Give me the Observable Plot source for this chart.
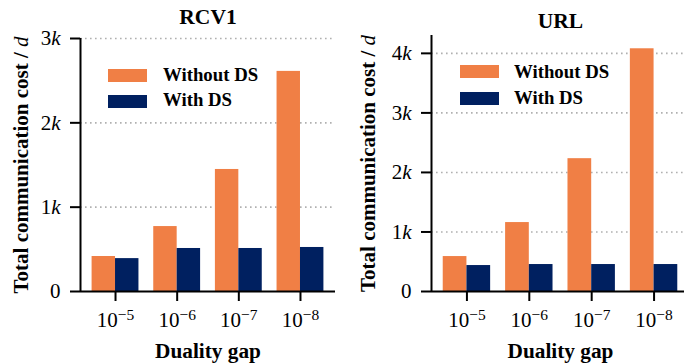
<!DOCTYPE html>
<html>
<head>
<meta charset="utf-8">
<script src="https://cdn.jsdelivr.net/npm/d3@7"></script>
<script src="https://cdn.jsdelivr.net/npm/@observablehq/plot@0.6"></script>
<style>
  html, body { margin: 0; padding: 0; background: #fff; }
  #wrap { position: relative; width: 684px; height: 364px; overflow: hidden; font-family: "Liberation Serif", "Times New Roman", serif; }
  .panel { position: absolute; top: 0; height: 364px; }
  .panel svg { display: block; }
  .sw { position: absolute; width: 39px; height: 13px; }
  .lt { position: absolute; font-weight: bold; font-size: 18.8px; line-height: 1; white-space: nowrap; color: #000; }
</style>
</head>
<body>
<div id="wrap"></div>
<script>
// ---- data ----
const gapExponents = [-5, -6, -7, -8];
const seriesNames = ["Without DS", "With DS"];
const seriesColors = ["#F07F45", "#002060"];
const rcv1Without = [415, 770, 1447, 2610];
const rcv1With = [390, 510, 510, 522];
const urlWithout = [587, 1158, 2231, 4077];
const urlWith = [436, 453, 453, 453];
const rcv1Ticks = [0, 1000, 2000, 3000];
const urlTicks = [0, 1000, 2000, 3000, 4000];
const titles = ["RCV1", "URL"];
const yLabel = "Total communication cost / d";
const xLabel = "Duality gap";

const barWidth = 0.38;
const n = gapExponents.length;
const xMargin = 0.05 * (n - 1 + 2 * barWidth);
const xDomain = [-barWidth - xMargin, n - 1 + barWidth + xMargin];

function rowsFor(without, withDS) {
  const rows = [];
  gapExponents.forEach((e, i) => {
    rows.push({i, series: seriesNames[0], value: without[i]});
    rows.push({i, series: seriesNames[1], value: withDS[i]});
  });
  return rows;
}

function makePanel(cfg) {
  const rows = rowsFor(cfg.without, cfg.withDS);
  const svg = Plot.plot({
    width: cfg.width,
    height: 364,
    marginLeft: cfg.marginLeft,
    marginRight: cfg.marginRight,
    marginTop: cfg.marginTop,
    marginBottom: 73,
    style: {fontFamily: "'Liberation Serif', 'Times New Roman', serif", fontSize: "20px", color: "#000", background: "transparent"},
    x: {type: "linear", domain: xDomain},
    y: {domain: [0, cfg.yMax]},
    color: {domain: seriesNames, range: seriesColors},
    marks: [
      Plot.gridY(cfg.ticks.filter(t => t > 0), {stroke: "#b0b0b0", strokeOpacity: 1, strokeWidth: 1.6, strokeDasharray: "1.6,3.4"}),
      Plot.rectY(rows, {
        x1: d => d.series === seriesNames[0] ? d.i - barWidth : d.i,
        x2: d => d.series === seriesNames[0] ? d.i : d.i + barWidth,
        y: "value",
        fill: "series"
      }),
      Plot.ruleY([0], {stroke: "#000", strokeWidth: 2}),
      Plot.ruleX([xDomain[0]], {stroke: "#000", strokeWidth: 2}),
      Plot.axisY(cfg.ticks, {
        tickSize: 10, tickPadding: 10, strokeWidth: 2, fontSize: 21, label: null,
        tickFormat: d => d === 0 ? "0" : (d / 1000) + "k"
      }),
      Plot.axisX(gapExponents.map((e, i) => i), {
        tickSize: 10, tickPadding: 11, strokeWidth: 2, fontSize: 21, label: null,
        tickFormat: i => "10\u2212" + Math.abs(gapExponents[i])
      }),
      Plot.text([cfg.title], {frameAnchor: "top", lineAnchor: "bottom", dy: cfg.titleDy, fontSize: 21.5, fontWeight: "bold", text: d => d}),
      Plot.text([xLabel], {frameAnchor: "bottom", lineAnchor: "bottom", dy: 66, fontSize: 21.3, fontWeight: "bold", text: d => d}),
      Plot.text([yLabel], {frameAnchor: "left", textAnchor: "middle", lineAnchor: "bottom", rotate: -90, dx: cfg.yLabelDx, fontSize: 21, fontWeight: "bold", text: d => d})
    ]
  });

  const s = d3.select(svg);
  // italic k on y tick labels
  s.selectAll('g[aria-label="y-axis tick label"]').attr("font-size", 21);
  s.selectAll('g[aria-label="y-axis tick label"] text').each(function () {
    const t = this.textContent;
    if (t.endsWith("k")) {
      const el = d3.select(this);
      el.text(t.slice(0, -1));
      el.append("tspan").attr("font-style", "italic").text("k");
    }
  });
  // superscript exponents on x tick labels
  s.selectAll('g[aria-label="x-axis tick label"]').attr("font-size", 21);
  s.selectAll('g[aria-label="x-axis tick label"] text').each(function () {
    const t = this.textContent;
    if (t.startsWith("10")) {
      const el = d3.select(this);
      el.text("10");
      el.append("tspan").attr("dy", "-7").attr("font-size", "15.5px").text(t.slice(2));
    }
  });
  // italic d in y label
  s.selectAll("text").each(function () {
    if (this.textContent === yLabel) {
      const el = d3.select(this);
      el.text(yLabel.slice(0, -1));
      el.append("tspan").attr("font-style", "italic").attr("font-weight", "normal").text("d");
    }
  });

  const panel = document.createElement("div");
  panel.className = "panel";
  panel.style.left = cfg.left + "px";
  panel.style.width = cfg.width + "px";
  panel.appendChild(svg);

  // legend
  const fs = 18.8;
  cfg.legend.forEach((lg, k) => {
    const sw = document.createElement("div");
    sw.className = "sw";
    sw.style.left = lg.rectX + "px";
    sw.style.top = lg.rectY + "px";
    sw.style.background = seriesColors[k];
    panel.appendChild(sw);
    const tx = document.createElement("div");
    tx.className = "lt";
    tx.style.left = lg.textX + "px";
    tx.style.top = (lg.baseline - 0.8375 * fs) + "px";
    tx.textContent = seriesNames[k];
    panel.appendChild(tx);
  });
  return panel;
}

const wrap = document.getElementById("wrap");
wrap.appendChild(makePanel({
  title: titles[0], without: rcv1Without, withDS: rcv1With, ticks: rcv1Ticks, yMax: 3000,
  width: 342, left: 0, marginLeft: 80, marginRight: 7, marginTop: 38, titleDy: -15, yLabelDx: -53,
  legend: [{rectX: 108, rectY: 69, textX: 163, baseline: 82}, {rectX: 108, rectY: 95, textX: 163, baseline: 107}]
}));
wrap.appendChild(makePanel({
  title: titles[1], without: urlWithout, withDS: urlWith, ticks: urlTicks, yMax: 4300,
  width: 347, left: 342, marginLeft: 89, marginRight: 0, marginTop: 35, titleDy: -8, yLabelDx: -57,
  legend: [{rectX: 118, rectY: 65, textX: 172, baseline: 79}, {rectX: 118, rectY: 92, textX: 172, baseline: 105}]
}));
</script>
</body>
</html>
